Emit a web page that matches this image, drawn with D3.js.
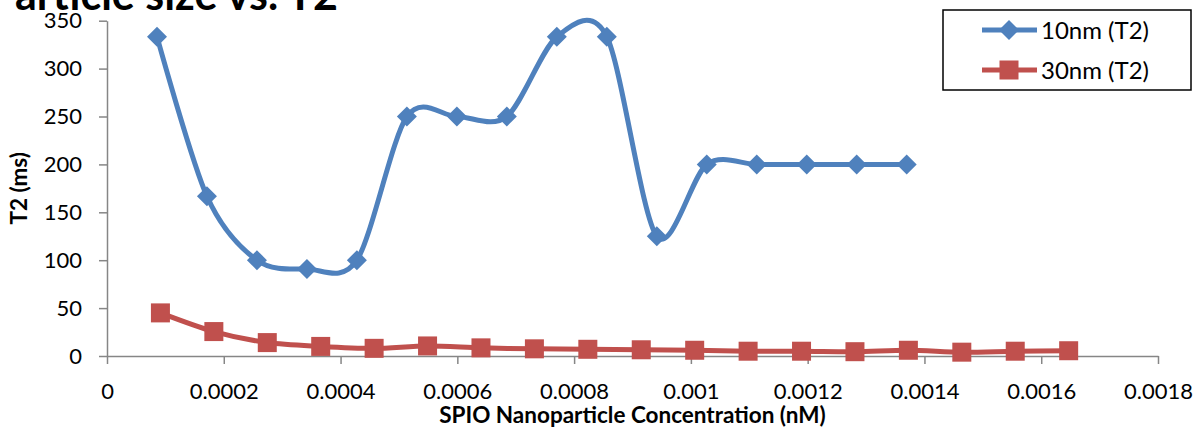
<!DOCTYPE html>
<html>
<head>
<meta charset="utf-8">
<script src="https://cdn.jsdelivr.net/npm/d3@7"></script>
<style>
  body { margin: 0; background: #fff; }
  text { font-family: Lato, 'Open Sans', sans-serif; }
</style>
</head>
<body>
<div id="chart"></div>
<script>
// values
const blueX = [0.0000856, 0.0001712, 0.0002568, 0.0003424, 0.000428, 0.0005136, 0.0005992, 0.0006848,
  0.0007704, 0.000856, 0.0009416, 0.0010272, 0.0011128, 0.0011984, 0.001284, 0.0013696]
const blueT2 = [333.3, 166.7, 100, 90.9, 100, 250, 250, 250, 333.3, 333.3, 125, 200, 200, 200, 200, 200]

const redX = [0.0000915, 0.000183, 0.0002745, 0.000366, 0.0004575, 0.000549, 0.0006405, 0.000732, 0.0008235,
  0.000915, 0.0010065, 0.001098, 0.0011895, 0.001281, 0.0013725, 0.001464, 0.0015555, 0.001647]
const redT2 = [45, 25.5, 14, 10, 8, 10.5, 8.5, 7.5, 7, 6.5, 6, 5, 5, 4.5, 6, 4, 5, 5.5]

const seriesNames = ['10nm (T2)', '30nm (T2)']
const xTicks = [0, 0.0002, 0.0004, 0.0006, 0.0008, 0.001, 0.0012, 0.0014, 0.0016, 0.0018]
const yTicks = [0, 50, 100, 150, 200, 250, 300, 350]

const margin = { top: 20.7, left: 107, right: 46, bottom: 75 }
const width = 1204 - margin.left - margin.right
const height = 431 - margin.top - margin.bottom

const root = d3
  .select('#chart')
  .append('svg')
  .attr('width', 1204)
  .attr('height', 431)

const svg = root
  .append('g')
  .attr('transform', 'translate(' + margin.left + ',' + margin.top + ')')

const xScale = d3.scaleLinear().domain([0, 0.0018]).range([0, width])
const yScale = d3.scaleLinear().domain([0, 350]).range([height, 0])

const colors = ['#4F81BD', '#C0504D']

// title, partly cut off by the top/left edge like the original
root
  .append('text')
  .text('Particle size vs. T2')
  .attr('x', 338)
  .attr('y', 10)
  .attr('text-anchor', 'end')
  .attr('font-size', 43)
  .attr('font-weight', 'bold')

// axes
const yAxis = d3
  .axisLeft(yScale)
  .tickValues(yTicks)
  .tickSize(8)
  .tickSizeOuter(0)
  .tickPadding(17)

const xAxis = d3
  .axisBottom(xScale)
  .tickValues(xTicks)
  .tickSize(8)
  .tickSizeOuter(0)
  .tickPadding(19)
  .tickFormat(function(d) {
    return d === 0 ? '0' : String(+d.toFixed(4))
  })

svg.append('g').attr('class', 'y-axis').call(yAxis)
svg
  .append('g')
  .attr('class', 'x-axis')
  .attr('transform', 'translate(0,' + height + ')')
  .call(xAxis)

svg.selectAll('.domain, .tick line').attr('stroke', '#868686').attr('stroke-width', 1.5)
svg.selectAll('.tick text').attr('font-size', 22).attr('fill', '#000')

// axis titles
root
  .append('text')
  .text('SPIO Nanoparticle Concentration (nM)')
  .attr('x', margin.left + width / 2)
  .attr('y', 423)
  .attr('text-anchor', 'middle')
  .attr('font-size', 22.5)
  .attr('font-weight', 'bold')

root
  .append('text')
  .text('T2 (ms)')
  .attr('transform', 'translate(27,' + (margin.top + height / 2) + ') rotate(-90)')
  .attr('text-anchor', 'middle')
  .attr('font-size', 22.5)
  .attr('font-weight', 'bold')

// smoothed lines (Excel style)
const line = d3
  .line()
  .x(d => xScale(d[0]))
  .y(d => yScale(d[1]))
  .curve(d3.curveCardinal.tension(0.1))

const blueData = blueX.map((x, i) => [x, blueT2[i]])
const redData = redX.map((x, i) => [x, redT2[i]])

svg
  .append('path')
  .datum(redData)
  .attr('d', line)
  .attr('fill', 'none')
  .attr('stroke', colors[1])
  .attr('stroke-width', 5)

svg
  .selectAll('.sq')
  .data(redData)
  .enter()
  .append('rect')
  .attr('class', 'sq')
  .attr('x', d => xScale(d[0]) - 9.5)
  .attr('y', d => yScale(d[1]) - 9.5)
  .attr('width', 19)
  .attr('height', 19)
  .attr('fill', colors[1])

svg
  .append('path')
  .datum(blueData)
  .attr('d', line)
  .attr('fill', 'none')
  .attr('stroke', colors[0])
  .attr('stroke-width', 5)

const diamond = 'M0,-10L10,0L0,10L-10,0Z'

svg
  .selectAll('.dm')
  .data(blueData)
  .enter()
  .append('path')
  .attr('class', 'dm')
  .attr('d', diamond)
  .attr('transform', d => `translate(${xScale(d[0])},${yScale(d[1])})`)
  .attr('fill', colors[0])

// legend
const legend = root.append('g').attr('transform', 'translate(943,10)')

legend
  .append('rect')
  .attr('width', 248)
  .attr('height', 80)
  .attr('fill', '#fff')
  .attr('stroke', '#000')
  .attr('stroke-width', 1.5)

legend
  .selectAll('.entry')
  .data(seriesNames)
  .enter()
  .append('g')
  .attr('class', 'entry')
  .attr('transform', (d, i) => `translate(0,${20 + i * 40})`)
  .each(function(d, i) {
    const g = d3.select(this)
    g.append('line')
      .attr('x1', 39)
      .attr('x2', 94)
      .attr('stroke', colors[i])
      .attr('stroke-width', 5)
    if (i === 0) {
      g.append('path')
        .attr('d', diamond)
        .attr('transform', 'translate(66,0)')
        .attr('fill', colors[i])
    } else {
      g.append('rect')
        .attr('x', 56.5)
        .attr('y', -9.5)
        .attr('width', 19)
        .attr('height', 19)
        .attr('fill', colors[i])
    }
    g.append('text')
      .text(d)
      .attr('x', 98)
      .attr('y', 8.5)
      .attr('font-size', 24)
  })
</script>
</body>
</html>
